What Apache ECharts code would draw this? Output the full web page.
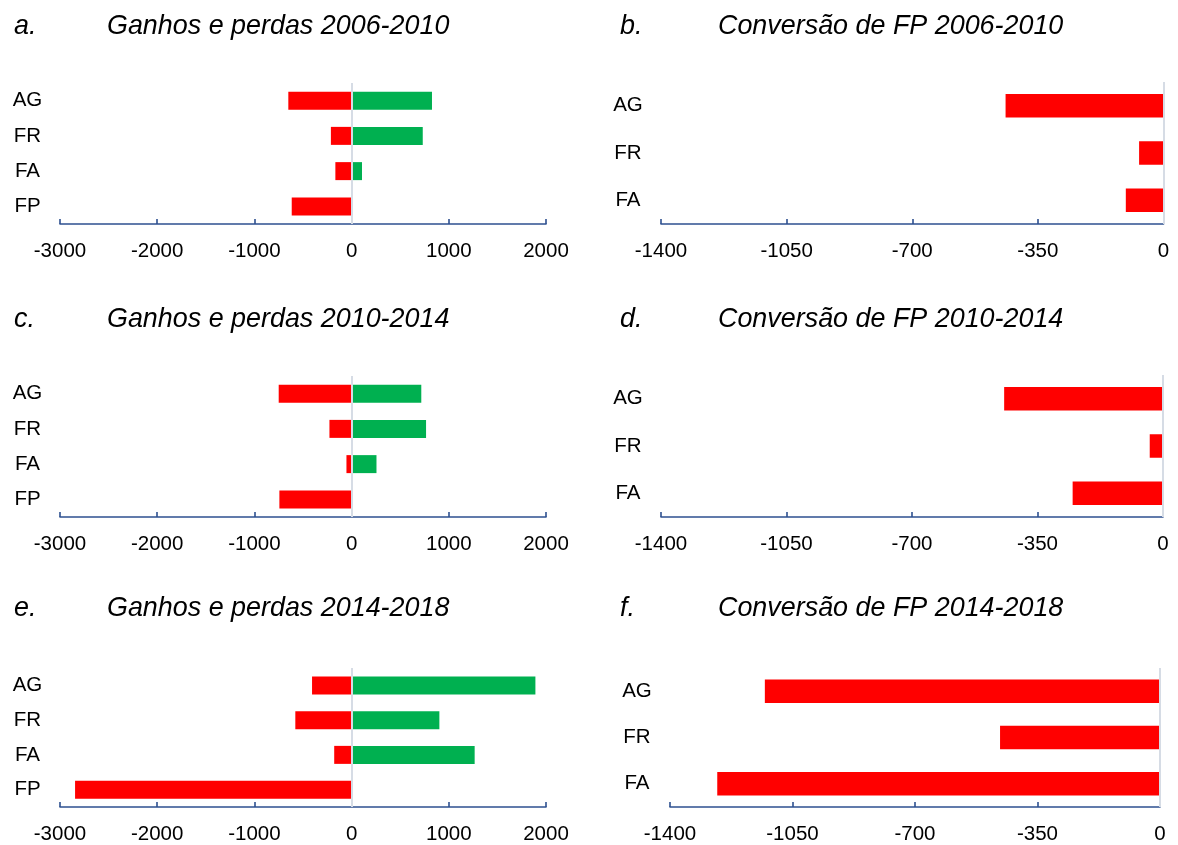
<!DOCTYPE html>
<html>
<head>
<meta charset="utf-8">
<script src="https://cdn.jsdelivr.net/npm/echarts@6/dist/echarts.min.js"></script>
<style>
  html, body { margin: 0; padding: 0; background: #ffffff; }
  #chart { width: 1178px; height: 845px; }
</style>
</head>
<body>
<div id="chart"></div>
<script>
// Land-cover categories
const catsGainLoss = ['AG', 'FR', 'FA', 'FP'];
const catsConversion = ['AG', 'FR', 'FA'];

// Gains (positive) and losses (negative) per period
const gains2006_2010 = [827, 732, 107, null];
const losses2006_2010 = [-651, -213, -167, -616];
const gains2010_2014 = [717, 766, 256, null];
const losses2010_2014 = [-750, -228, -53, -743];
const gains2014_2018 = [1891, 903, 1266, null];
const losses2014_2018 = [-407, -579, -179, -2845];

// Conversion of FP into other classes per period
const conv2006_2010 = [-440, -68, -105];
const conv2010_2014 = [-443, -37, -252];
const conv2014_2018 = [-1129, -457, -1265];

// Axis ticks
const gainLossTicks = { min: -3000, max: 2000, interval: 1000 };
const conversionTicks = { min: -1400, max: 0, interval: 350 };

// Panel titles
const panelLetters = ['a.', 'b.', 'c.', 'd.', 'e.', 'f.'];
const panelTitles = [
  'Ganhos e perdas 2006-2010', 'Conversão de FP 2006-2010',
  'Ganhos e perdas 2010-2014', 'Conversão de FP 2010-2014',
  'Ganhos e perdas 2014-2018', 'Conversão de FP 2014-2018'
];

const FONT = '"Liberation Sans", Arial, Helvetica, sans-serif';
const RED = '#FF0000';
const GREEN = '#00B050';
const AXIS_BLUE = '#2E5090';
const ZERO_GRAY = '#D6DCE5';

const panels = [
  { kind: 'gl', gains: gains2006_2010, losses: losses2006_2010,
    grid: { left: 60, width: 486, top: 83, height: 141 }, labelMargin: 32.5, barW: 18 },
  { kind: 'cv', values: conv2006_2010,
    grid: { left: 661, width: 502.5, top: 82, height: 142 }, labelMargin: 33, barW: 23.5 },
  { kind: 'gl', gains: gains2010_2014, losses: losses2010_2014,
    grid: { left: 60, width: 486, top: 376, height: 141 }, labelMargin: 32.5, barW: 18 },
  { kind: 'cv', values: conv2010_2014,
    grid: { left: 661, width: 502, top: 375, height: 142 }, labelMargin: 33, barW: 23.5 },
  { kind: 'gl', gains: gains2014_2018, losses: losses2014_2018,
    grid: { left: 60, width: 486, top: 668, height: 141 }, labelMargin: 32.5, barW: 18 },
  { kind: 'cv', values: conv2014_2018,
    grid: { left: 670, width: 490, top: 668, height: 142 }, labelMargin: 33, barW: 23.5 }
];

const titleRowsTop = [12, 305, 594];
const letterLeft = [14, 620];
const titleLeft = [107, 718];

const option = {
  animation: false,
  backgroundColor: '#ffffff',
  title: [],
  grid: [],
  xAxis: [],
  yAxis: [],
  series: []
};

panelTitles.forEach(function (t, i) {
  const row = Math.floor(i / 2), col = i % 2;
  const ts = { fontFamily: FONT, fontSize: 26.9, fontStyle: 'italic', fontWeight: 'normal',
               color: '#000000', lineHeight: 30 };
  option.title.push({ text: panelLetters[i], left: letterLeft[col], top: titleRowsTop[row],
                      padding: 0, textStyle: ts });
  option.title.push({ text: t, left: titleLeft[col], top: titleRowsTop[row],
                      padding: 0, textStyle: ts });
});

const zeroLine = {
  silent: true,
  symbol: 'none',
  label: { show: false },
  lineStyle: { color: ZERO_GRAY, width: 2, type: 'solid' },
  data: [{ xAxis: 0 }]
};

panels.forEach(function (p, i) {
  option.grid.push(Object.assign({ containLabel: false }, p.grid));
  const ticks = p.kind === 'gl' ? gainLossTicks : conversionTicks;
  option.xAxis.push({
    type: 'value',
    gridIndex: i,
    min: ticks.min, max: ticks.max, interval: ticks.interval,
    axisLine: { show: true, onZero: false, lineStyle: { color: AXIS_BLUE, width: 1.6 } },
    axisTick: { show: true, inside: true, length: 5, lineStyle: { color: AXIS_BLUE, width: 1.6 } },
    splitLine: { show: false },
    axisLabel: { color: '#000000', fontFamily: FONT, fontSize: 20.5, margin: 17,
                 formatter: function (v) { return String(v); } }
  });
  option.yAxis.push({
    type: 'category',
    gridIndex: i,
    inverse: true,
    data: p.kind === 'gl' ? catsGainLoss : catsConversion,
    axisLine: { show: false },
    axisTick: { show: false },
    splitLine: { show: false },
    axisLabel: { color: '#000000', fontFamily: FONT, fontSize: 20.5,
                 align: 'center', margin: p.labelMargin }
  });
  if (p.kind === 'gl') {
    option.series.push({
      type: 'bar', xAxisIndex: i, yAxisIndex: i,
      data: p.losses, barWidth: p.barW, barGap: '-100%',
      itemStyle: { color: RED },
      markLine: zeroLine
    });
    option.series.push({
      type: 'bar', xAxisIndex: i, yAxisIndex: i,
      data: p.gains, barWidth: p.barW, barGap: '-100%',
      itemStyle: { color: GREEN }
    });
  } else {
    option.series.push({
      type: 'bar', xAxisIndex: i, yAxisIndex: i,
      data: p.values, barWidth: p.barW,
      itemStyle: { color: RED },
      markLine: zeroLine
    });
  }
});

const chart = echarts.init(document.getElementById('chart'), null, { renderer: 'canvas' });
chart.setOption(option);
</script>
</body>
</html>
